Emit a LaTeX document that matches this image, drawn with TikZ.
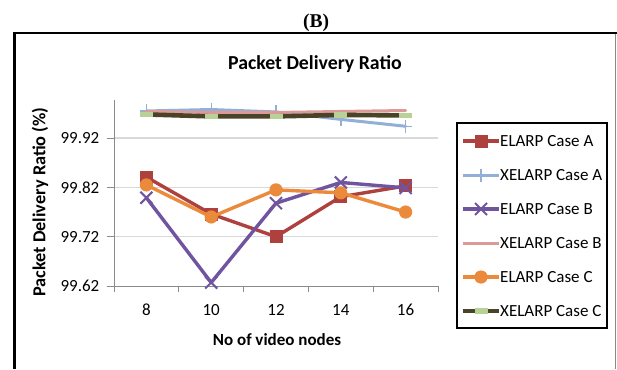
\documentclass[tikz,border=0pt]{standalone}
\usepackage{fontspec}
\setmainfont{Carlito}
\newfontfamily\figlabelfont{Liberation Serif}
\definecolor{serA}{HTML}{AE403D}
\definecolor{serXA}{HTML}{92B0D6}
\definecolor{serB}{HTML}{7054A0}
\definecolor{serXB}{HTML}{DB9A98}
\definecolor{serC}{HTML}{EC8A3C}
\definecolor{serXC}{HTML}{4A4328}
\definecolor{markXC}{HTML}{B7D197}
\definecolor{gridc}{HTML}{D9D9D9}
\definecolor{axisc}{HTML}{8A8A8A}
% value -> vertical position (99.62 sits on the category axis)
\newcommand\vpos[1]{286-(#1-99.62)*493}
\tikzset{
  series/.style={line width=3.4pt, line join=round, line cap=round},
  sqmark/.pic={\fill[serA] (-6.5,-6.5) rectangle (6.5,6.5);},
  plusmark/.pic={\draw[serXA, line width=1.4pt] (0,-6.5) -- (0,6.5) (-6.5,0) -- (6.5,0);},
  crossmark/.pic={\draw[serB, line width=2pt] (-6,-6) -- (6,6) (-6,6) -- (6,-6);},
  dotmark/.pic={\fill[serC] (0,0) circle (6.6);},
  barmark/.pic={\fill[markXC] (-6.5,-2.8) rectangle (6.5,2.8);},
  ticklab/.style={font=\fontsize{17}{19}\selectfont, inner sep=0pt},
  legtext/.style={font=\fontsize{17}{19}\selectfont, inner sep=0pt, anchor=west},
}
\begin{document}
\begin{tikzpicture}[x=1pt, y=-1pt]
\useasboundingbox (0,0) rectangle (617,369);
\fill[white] (0,0) rectangle (617,369);

% panel label and chart frame
\node[font=\figlabelfont\bfseries\fontsize{19.5}{21}\selectfont, inner sep=0pt] (panel) at (316,23) {(B)};
\draw[axisc, line width=0.9pt] (615.5,33) -- (615.5,369);
\draw[black, line width=2.4pt] (14.5,369) -- (14.5,33) -- (617,33);

% chart title and axis titles
\node[font=\bfseries\fontsize{19.8}{21}\selectfont, inner sep=0pt] (title) at (315,64) {Packet Delivery Ratio};
\node[font=\bfseries\fontsize{18.3}{20}\selectfont, inner sep=0pt, rotate=90] (ytitle) at (40,202) {Packet Delivery Ratio (\%)};
\node[font=\bfseries\fontsize{17}{19}\selectfont, inner sep=0pt] (xtitle) at (277,340) {No of video nodes};

% gridlines
\foreach \v in {99.72,99.82,99.92}
  \draw[gridc, line width=1.3pt] (114,{\vpos{\v}}) -- (438,{\vpos{\v}});

% axes and tick marks
\draw[axisc, line width=1pt] (114,100) -- (114,286) -- (438,286);
\foreach \v in {99.62,99.72,99.82,99.92}
  \draw[axisc, line width=1pt] (107,{\vpos{\v}}) -- (114,{\vpos{\v}});
\foreach \x in {114,178.8,243.6,308.4,373.2,438}
  \draw[axisc, line width=1pt] (\x,286) -- (\x,292);

% tick labels
\foreach \v in {99.62,99.72,99.82,99.92}
  \node[ticklab, anchor=east] at (99.5,{\vpos{\v}}) {\v};
\foreach \n [count=\i from 0] in {8,10,12,14,16}
  \node[ticklab] at ({146.4+64.8*\i},310) {\n};

% data points
\foreach \s/\vals in {a/{99.841,99.766,99.720,99.801,99.823},
                      xa/{99.975,99.978,99.973,99.958,99.944},
                      b/{99.799,99.627,99.788,99.830,99.819},
                      xb/{99.974,99.972,99.972,99.974,99.976},
                      c/{99.825,99.760,99.815,99.809,99.770},
                      xc/{99.968,99.964,99.964,99.967,99.966}}
  \foreach \v [count=\i] in \vals
    \coordinate (\s\i) at ({146.4+64.8*(\i-1)},{\vpos{\v}});

% ELARP Case A
\draw[series, serA] (a1) -- (a2) -- (a3) -- (a4) -- (a5);
\foreach \i in {1,...,5} \pic at (a\i) {sqmark};
% XELARP Case A
\draw[series, serXA, line width=3pt] (xa1) -- (xa2) -- (xa3) -- (xa4) -- (xa5);
\foreach \i in {1,...,5} \pic at (xa\i) {plusmark};
% ELARP Case B
\draw[series, serB] (b1) -- (b2) -- (b3) -- (b4) -- (b5);
\foreach \i in {1,...,5} \pic at (b\i) {crossmark};
% XELARP Case B
\draw[series, serXB, line width=3pt] (xb1) -- (xb2) -- (xb3) -- (xb4) -- (xb5);
% ELARP Case C
\draw[series, serC] (c1) -- (c2) -- (c3) -- (c4) -- (c5);
\foreach \i in {1,...,5} \pic at (c\i) {dotmark};
% XELARP Case C
\draw[series, serXC, line width=4.6pt, line cap=butt] (xc1) -- (xc2) -- (xc3) -- (xc4) -- (xc5);
\foreach \i in {1,...,5} \pic at (xc\i) {barmark};

% legend
\draw[black, line width=1.5pt, fill=white] (457,123) rectangle (607,328);
\foreach \k in {0,...,5} \coordinate (lg\k) at (481,{141+34*\k});
\draw[series, serA, line cap=butt] ([xshift=-18pt]lg0) -- ([xshift=18pt]lg0);
\pic at (lg0) {sqmark};
\draw[series, serXA, line width=3pt, line cap=butt] ([xshift=-18pt]lg1) -- ([xshift=18pt]lg1);
\pic at (lg1) {plusmark};
\draw[series, serB, line cap=butt] ([xshift=-18pt]lg2) -- ([xshift=18pt]lg2);
\pic at (lg2) {crossmark};
\draw[series, serXB, line width=3pt, line cap=butt] ([xshift=-18pt]lg3) -- ([xshift=18pt]lg3);
\draw[series, serC, line cap=butt] ([xshift=-18pt]lg4) -- ([xshift=18pt]lg4);
\pic at (lg4) {dotmark};
\draw[series, serXC, line width=4.6pt, line cap=butt] ([xshift=-18pt]lg5) -- ([xshift=18pt]lg5);
\pic at (lg5) {barmark};
\foreach \t [count=\k from 0] in {ELARP Case A,XELARP Case A,ELARP Case B,XELARP Case B,ELARP Case C,XELARP Case C}
  \node[legtext] (leg\k) at (500,{141+34*\k}) {\t};
\end{tikzpicture}
\end{document}
